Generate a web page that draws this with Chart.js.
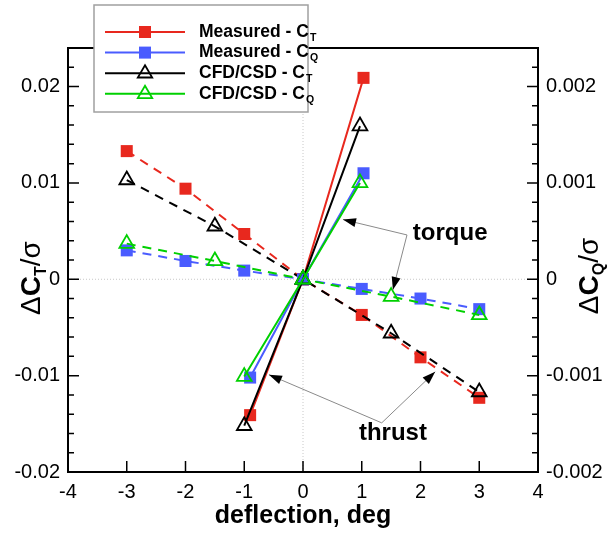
<!DOCTYPE html>
<html>
<head>
<meta charset="utf-8">
<script src="https://cdn.jsdelivr.net/npm/chart.js@4.4.0/dist/chart.umd.min.js"></script>
<style>
  html, body { margin: 0; padding: 0; background: #fff; }
  #wrap { width: 608px; height: 534px; position: relative; }
</style>
</head>
<body>
<div id="wrap"><canvas id="chart"></canvas></div>
<script>
// sweep runs (dashed lines)
const measuredSweepX = [-3, -2, -1, 0, 1, 2, 3];
const measuredCtSweep = [0.0133, 0.0094, 0.0047, 0, -0.0037, -0.0081, -0.0123];
const measuredCqSweep = [0.0003, 0.00019, 0.00009, 0, -0.0001, -0.0002, -0.00031];
const cfdSweepX = [-3, -1.5, 0, 1.5, 3];
const cfdCtSweep = [0.0103, 0.0055, 0, -0.0056, -0.0117];
const cfdCqSweep = [0.00037, 0.00019, 0, -0.00018, -0.00037];

// step runs (solid lines)
const measuredStepX = [-0.9, 0, 1.03];
const measuredCtStep = [-0.0141, 0, 0.0209];
const measuredCqStep = [-0.00102, 0, 0.0011];
const cfdStepX = [-1, 0, 0.97];
const cfdCtStep = [-0.0152, 0, 0.0159];
const cfdCqStep = [-0.00101, 0, 0.001];

const xTicks = [-4, -3, -2, -1, 0, 1, 2, 3, 4];
const ctTicks = [-0.02, -0.01, 0, 0.01, 0.02];
const cqTicks = [-0.002, -0.001, 0, 0.001, 0.002];

const RED = '#e8281e';
const BLUE = '#4a5cff';
const BLACK = '#000000';
const GREEN = '#00d000';
const FONT = '"Liberation Sans", Arial, Helvetica, sans-serif';

function pts(xs, ys) {
    return xs.map((x, i) => ({ x: x, y: ys[i] }));
}

function series(label, color, marker, xs, ys, axis, dashed) {
    const tri = marker === 'triangle';
    return {
        label: label,
        data: pts(xs, ys),
        yAxisID: axis,
        showLine: true,
        borderColor: color,
        borderWidth: 2,
        borderDash: dashed ? [9, 7] : [],
        pointStyle: marker,
        pointRadius: tri ? 8.5 : 8.5,
        pointBorderWidth: tri ? 1.8 : 0,
        pointBorderColor: color,
        pointBackgroundColor: tri ? 'rgba(0,0,0,0)' : color,
        pointHoverRadius: tri ? 8.5 : 8.5
    };
}

const legendItems = [
    { text: 'Measured - C', sub: 'T', color: RED, marker: 'rect' },
    { text: 'Measured - C', sub: 'Q', color: BLUE, marker: 'rect' },
    { text: 'CFD/CSD - C', sub: 'T', color: BLACK, marker: 'triangle' },
    { text: 'CFD/CSD - C', sub: 'Q', color: GREEN, marker: 'triangle' }
];

function marker(ctx, type, x, y, color) {
    ctx.save();
    if (type === 'rect') {
        ctx.fillStyle = color;
        ctx.fillRect(x - 6, y - 6, 12, 12);
    } else {
        ctx.strokeStyle = color;
        ctx.lineWidth = 1.8;
        ctx.beginPath();
        ctx.moveTo(x, y - 8);
        ctx.lineTo(x + 7.2, y + 4.3);
        ctx.lineTo(x - 7.2, y + 4.3);
        ctx.closePath();
        ctx.stroke();
    }
    ctx.restore();
}

function arrow(ctx, x0, y0, x1, y1) {
    ctx.save();
    ctx.strokeStyle = '#8a8a8a';
    ctx.lineWidth = 1;
    ctx.beginPath();
    ctx.moveTo(x0, y0);
    ctx.lineTo(x1, y1);
    ctx.stroke();
    const a = Math.atan2(y1 - y0, x1 - x0);
    const L = 13, W = 4.5;
    ctx.fillStyle = '#000';
    ctx.beginPath();
    ctx.moveTo(x1, y1);
    ctx.lineTo(x1 - L * Math.cos(a) + W * Math.sin(a), y1 - L * Math.sin(a) - W * Math.cos(a));
    ctx.lineTo(x1 - L * Math.cos(a) - W * Math.sin(a), y1 - L * Math.sin(a) + W * Math.cos(a));
    ctx.closePath();
    ctx.fill();
    ctx.restore();
}

// rotated title like  ΔC_T/σ
function yTitle(ctx, cx, cy, sub) {
    const big = 28;
    const parts = [
        { t: '\u0394', f: 'normal ' + big + 'px ' + FONT, dy: 0 },
        { t: 'C', f: 'bold ' + big + 'px ' + FONT, dy: 0 },
        { t: sub, f: 'bold 16px ' + FONT, dy: 6 },
        { t: '/\u03c3', f: 'normal ' + big + 'px ' + FONT, dy: 0 }
    ];
    ctx.save();
    let total = 0;
    parts.forEach(p => { ctx.font = p.f; p.w = ctx.measureText(p.t).width; total += p.w; });
    ctx.translate(cx, cy);
    ctx.rotate(-Math.PI / 2);
    ctx.fillStyle = '#000';
    ctx.textBaseline = 'alphabetic';
    let x = -total / 2;
    parts.forEach(p => { ctx.font = p.f; ctx.fillText(p.t, x, 10 + p.dy); x += p.w; });
    ctx.restore();
}

const framePlugin = {
    id: 'frame',
    beforeDatasetsDraw(chart) {
        const { ctx, chartArea: a, scales } = chart;
        const x0 = scales.x.getPixelForValue(0);
        const y0 = scales.y.getPixelForValue(0);
        ctx.save();
        ctx.strokeStyle = '#c8c8c8';
        ctx.lineWidth = 1;
        ctx.setLineDash([1, 2]);
        ctx.beginPath();
        ctx.moveTo(x0, a.top); ctx.lineTo(x0, a.bottom);
        ctx.moveTo(a.left, y0); ctx.lineTo(a.right, y0);
        ctx.stroke();
        ctx.restore();
    },
    afterDatasetsDraw(chart) {
        const { ctx, scales } = chart;
        const px = v => scales.x.getPixelForValue(v);
        const py = v => scales.y.getPixelForValue(v);
        // torque
        arrow(ctx, px(1.77), py(0.0046), px(0.68), py(0.0062));
        arrow(ctx, px(1.77), py(0.0046), px(1.53), py(-0.0011));
        // thrust
        arrow(ctx, px(1.34), py(-0.0149), px(-0.58), py(-0.0099));
        arrow(ctx, px(1.34), py(-0.0149), px(2.25), py(-0.0096));
        ctx.save();
        ctx.fillStyle = '#000';
        ctx.font = 'bold 24px ' + FONT;
        ctx.textBaseline = 'middle';
        ctx.textAlign = 'left';
        ctx.fillText('torque', px(1.87), py(0.0048));
        ctx.textAlign = 'center';
        ctx.fillText('thrust', px(1.53), py(-0.0160));
        ctx.restore();
    },
    afterDraw(chart) {
        const { ctx, chartArea: a, scales } = chart;
        ctx.save();
        ctx.strokeStyle = '#000';
        ctx.lineWidth = 2;
        ctx.strokeRect(a.left, a.top, a.right - a.left, a.bottom - a.top);
        ctx.lineWidth = 1.5;
        ctx.beginPath();
        // bottom ticks
        xTicks.forEach(v => {
            const x = scales.x.getPixelForValue(v);
            ctx.moveTo(x, a.bottom); ctx.lineTo(x, a.bottom - 11);
        });
        // left / right ticks, minor every 1/5 of major step
        for (let i = -10; i <= 12; i++) {
            const major = i % 5 === 0;
            const len = major ? 11 : 6;
            const yl = scales.y.getPixelForValue(i * 0.002);
            if (yl >= a.top && yl <= a.bottom) { ctx.moveTo(a.left, yl); ctx.lineTo(a.left + len, yl); }
            const yr = scales.y1.getPixelForValue(i * 0.0002);
            if (yr >= a.top && yr <= a.bottom) { ctx.moveTo(a.right, yr); ctx.lineTo(a.right - len, yr); }
        }
        ctx.stroke();
        ctx.restore();

        // axis titles
        yTitle(ctx, 30, 278, 'T');
        yTitle(ctx, 588, 276, 'Q');

        // legend box
        ctx.save();
        ctx.fillStyle = '#fff';
        ctx.fillRect(94, 5, 214, 107);
        ctx.strokeStyle = '#a0a0a0';
        ctx.lineWidth = 1.5;
        ctx.strokeRect(94, 5, 214, 107);
        legendItems.forEach((it, i) => {
            const y = 32 + i * 20.6;
            ctx.strokeStyle = it.color;
            ctx.lineWidth = 2;
            ctx.beginPath();
            ctx.moveTo(105, y); ctx.lineTo(185, y);
            ctx.stroke();
            marker(ctx, it.marker, 145, y, it.color);
            ctx.fillStyle = '#000';
            ctx.textBaseline = 'middle';
            ctx.font = 'bold 17.5px ' + FONT;
            ctx.fillText(it.text, 199, y);
            const w = ctx.measureText(it.text).width;
            ctx.font = 'bold 10.5px ' + FONT;
            ctx.fillText(it.sub, 199 + w + 1, y + 6);
        });
        ctx.restore();
    }
};

const tickFmt = v => String(+Number(v).toFixed(4));

new Chart(document.getElementById('chart').getContext('2d'), {
    type: 'scatter',
    data: {
        datasets: [
            series('CFD/CSD - CQ', GREEN, 'triangle', cfdStepX, cfdCqStep, 'y1', false),
            series('CFD/CSD - CT', BLACK, 'triangle', cfdStepX, cfdCtStep, 'y', false),
            series('Measured - CQ', BLUE, 'rect', measuredStepX, measuredCqStep, 'y1', false),
            series('Measured - CT', RED, 'rect', measuredStepX, measuredCtStep, 'y', false),
            series('CFD/CSD - CQ sweep', GREEN, 'triangle', cfdSweepX, cfdCqSweep, 'y1', true),
            series('CFD/CSD - CT sweep', BLACK, 'triangle', cfdSweepX, cfdCtSweep, 'y', true),
            series('Measured - CQ sweep', BLUE, 'rect', measuredSweepX, measuredCqSweep, 'y1', true),
            series('Measured - CT sweep', RED, 'rect', measuredSweepX, measuredCtSweep, 'y', true)
        ]
    },
    options: {
        responsive: true,
        maintainAspectRatio: false,
        animation: false,
        layout: { padding: { top: 48, left: 0, right: 0, bottom: 0 } },
        plugins: {
            legend: { display: false },
            tooltip: { enabled: false }
        },
        scales: {
            x: {
                type: 'linear',
                min: -4,
                max: 4,
                grid: { display: false, drawTicks: false },
                border: { display: false },
                afterBuildTicks: s => { s.ticks = xTicks.map(v => ({ value: v })); },
                afterFit: s => { s.height = 62; },
                ticks: {
                    padding: 8,
                    color: '#000',
                    font: { family: FONT, size: 20 },
                    callback: tickFmt
                },
                title: {
                    display: true,
                    text: 'deflection, deg',
                    color: '#000',
                    font: { family: FONT, size: 25, weight: 'bold' },
                    padding: { top: 0, bottom: 3 }
                }
            },
            y: {
                type: 'linear',
                position: 'left',
                min: -0.02,
                max: 0.024,
                grid: { display: false, drawTicks: false },
                border: { display: false },
                afterBuildTicks: s => { s.ticks = ctTicks.map(v => ({ value: v })); },
                afterFit: s => { s.width = 68; },
                ticks: {
                    padding: 8,
                    color: '#000',
                    font: { family: FONT, size: 20 },
                    callback: tickFmt
                }
            },
            y1: {
                type: 'linear',
                position: 'right',
                min: -0.002,
                max: 0.0024,
                grid: { display: false, drawTicks: false },
                border: { display: false },
                afterBuildTicks: s => { s.ticks = cqTicks.map(v => ({ value: v })); },
                afterFit: s => { s.width = 70; },
                ticks: {
                    padding: 8,
                    color: '#000',
                    font: { family: FONT, size: 20 },
                    callback: tickFmt
                }
            }
        }
    },
    plugins: [framePlugin]
});
</script>
</body>
</html>
